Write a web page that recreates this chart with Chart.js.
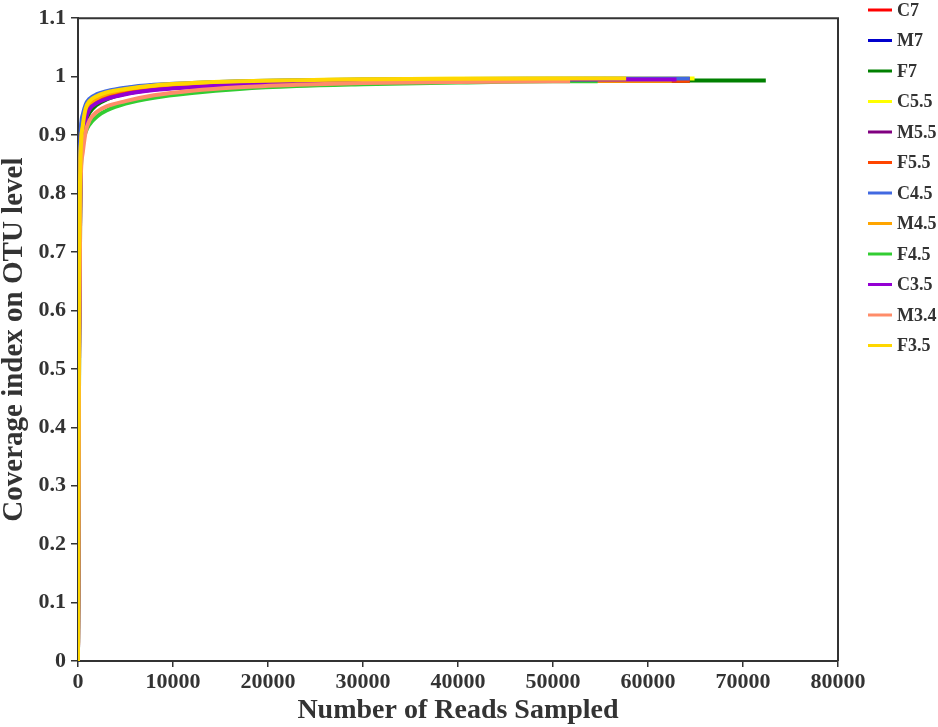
<!DOCTYPE html>
<html>
<head>
<meta charset="utf-8">
<title>Coverage index on OTU level</title>
<script src="https://cdn.jsdelivr.net/npm/chart.js@4.4.1/dist/chart.umd.min.js"></script>
<style>
  html, body { margin: 0; padding: 0; background: #fff; }
  #wrap { width: 938px; height: 727px; }
</style>
</head>
<body>
<div id="wrap"><canvas id="coverage-chart" width="938" height="727"></canvas></div>
<script>
// sample names + colours, same order as the legend
const sampleNames = ["C7", "M7", "F7", "C5.5", "M5.5", "F5.5", "C4.5", "M4.5", "F4.5", "C3.5", "M3.4", "F3.5"];
const sampleColors = ["#ff0000", "#0000cd", "#008000", "#ffff00", "#800080", "#ff4500",
  "#4169e1", "#ffa500", "#32cd32", "#9400d3", "#ff8c69", "#ffd700"];

// reads sampled (x) shared by every curve, last point of each curve is its own depth
const readsSampled = [0, 100, 250, 500, 800, 1200, 2000, 3000, 5000, 8000, 12000, 17000, 23000, 30000, 40000, 50000];
const endReads = [64400, 58000, 72400, 64900, 64400, 64400, 64400, 62500, 54700, 63000, 51800, 57700];

// coverage values
const coverage = [
  [0, 0.55, 0.84, 0.905, 0.932, 0.947, 0.959, 0.967, 0.976, 0.983, 0.987, 0.990, 0.991, 0.992, 0.993, 0.993, 0.993], // C7
  [0, 0.62, 0.88, 0.928, 0.947, 0.958, 0.967, 0.973, 0.980, 0.985, 0.988, 0.991, 0.993, 0.994, 0.995, 0.996, 0.996], // M7
  [0, 0.52, 0.82, 0.895, 0.922, 0.938, 0.952, 0.961, 0.971, 0.979, 0.984, 0.988, 0.990, 0.991, 0.992, 0.993, 0.9935], // F7
  [0, 0.58, 0.86, 0.915, 0.942, 0.955, 0.965, 0.972, 0.979, 0.985, 0.989, 0.992, 0.994, 0.9955, 0.9965, 0.997, 0.997], // C5.5
  [0, 0.50, 0.82, 0.898, 0.928, 0.945, 0.956, 0.963, 0.971, 0.978, 0.983, 0.988, 0.991, 0.993, 0.995, 0.996, 0.996], // M5.5
  [0, 0.55, 0.84, 0.903, 0.930, 0.946, 0.958, 0.967, 0.976, 0.983, 0.987, 0.990, 0.992, 0.993, 0.993, 0.993, 0.993], // F5.5
  [0, 0.65, 0.89, 0.935, 0.952, 0.962, 0.970, 0.975, 0.981, 0.986, 0.989, 0.992, 0.994, 0.995, 0.996, 0.9965, 0.997], // C4.5
  [0, 0.57, 0.86, 0.912, 0.938, 0.952, 0.963, 0.970, 0.978, 0.984, 0.988, 0.990, 0.992, 0.993, 0.993, 0.993, 0.993], // M4.5
  [0, 0.45, 0.80, 0.885, 0.905, 0.918, 0.932, 0.942, 0.954, 0.964, 0.972, 0.979, 0.984, 0.987, 0.990, 0.992, 0.992], // F4.5
  [0, 0.50, 0.82, 0.895, 0.926, 0.944, 0.955, 0.962, 0.970, 0.977, 0.982, 0.987, 0.990, 0.992, 0.994, 0.995, 0.995], // C3.5
  [0, 0.47, 0.80, 0.870, 0.905, 0.925, 0.940, 0.949, 0.958, 0.968, 0.976, 0.982, 0.986, 0.989, 0.991, 0.992, 0.992], // M3.4
  [0, 0.60, 0.85, 0.915, 0.945, 0.958, 0.967, 0.973, 0.979, 0.985, 0.989, 0.992, 0.994, 0.9955, 0.9965, 0.997, 0.997]  // F3.5
];

const xTickValues = [0, 10000, 20000, 30000, 40000, 50000, 60000, 70000, 80000];
const yTickValues = [0, 0.1, 0.2, 0.3, 0.4, 0.5, 0.6, 0.7, 0.8, 0.9, 1, 1.1];

const serif = "'Liberation Serif', 'Times New Roman', serif";
const axisColor = "#333333";

// build {x,y} points for one sample
const toPoints = (i) => {
  const xs = readsSampled.concat([endReads[i]]);
  return coverage[i].map((v, k) => ({ x: xs[k], y: v }));
};

// top + right frame and the legend on the right
const frameAndLegend = {
  id: "frameAndLegend",
  afterDraw(chart) {
    const { ctx, chartArea } = chart;
    ctx.save();
    ctx.strokeStyle = axisColor;
    ctx.lineWidth = 2;
    ctx.beginPath();
    ctx.moveTo(chartArea.left, chartArea.top);
    ctx.lineTo(chartArea.right, chartArea.top);
    ctx.lineTo(chartArea.right, chartArea.bottom);
    ctx.stroke();

    ctx.font = "bold 18px " + serif;
    ctx.textBaseline = "middle";
    ctx.textAlign = "left";
    chart.data.datasets.forEach((ds, i) => {
      const y = 10 + i * 30.5;
      ctx.strokeStyle = ds.borderColor;
      ctx.lineWidth = 3;
      ctx.beginPath();
      ctx.moveTo(868, y);
      ctx.lineTo(892, y);
      ctx.stroke();
      ctx.fillStyle = axisColor;
      ctx.fillText(ds.label, 897, y + 1);
    });
    ctx.restore();
  },
};

const datasets = sampleNames.map((name, i) => ({
  label: name,
  data: toPoints(i),
  borderColor: sampleColors[i],
  backgroundColor: sampleColors[i],
  borderWidth: 4,
  pointRadius: 0,
  cubicInterpolationMode: "monotone",
  order: sampleNames.length - i,
}));

new Chart(document.getElementById("coverage-chart"), {
  type: "line",
  data: { datasets: datasets },
  options: {
    responsive: false,
    animation: false,
    layout: { padding: { top: 17, right: 100, left: 0, bottom: 0 } },
    plugins: {
      legend: { display: false },
      tooltip: { enabled: false },
    },
    scales: {
      x: {
        type: "linear",
        min: 0,
        max: 80000,
        afterBuildTicks: (scale) => {
          scale.ticks = xTickValues.map((v) => ({ value: v }));
        },
        afterFit: (scale) => {
          scale.height = 66;
        },
        ticks: {
          color: axisColor,
          padding: 2,
          maxRotation: 0,
          font: { family: serif, size: 22, weight: "bold" },
          callback: (v) => String(v),
        },
        grid: { drawOnChartArea: false, tickLength: 6, color: axisColor, lineWidth: 1.5 },
        border: { color: axisColor, width: 2 },
        title: {
          display: true,
          text: "Number of Reads Sampled",
          color: axisColor,
          padding: { top: 0, bottom: 2 },
          font: { family: serif, size: 28, weight: "bold", lineHeight: 1 },
        },
      },
      y: {
        type: "linear",
        min: 0,
        max: 1.1,
        afterBuildTicks: (scale) => {
          scale.ticks = yTickValues.map((v) => ({ value: v }));
        },
        afterFit: (scale) => {
          scale.width = 78;
        },
        ticks: {
          color: axisColor,
          padding: 5,
          font: { family: serif, size: 22, weight: "bold" },
          callback: (v) => String(v),
        },
        grid: { drawOnChartArea: false, tickLength: 7, color: axisColor, lineWidth: 1.5 },
        border: { color: axisColor, width: 2 },
        title: {
          display: true,
          text: "Coverage index on OTU level",
          color: axisColor,
          padding: { top: 0, bottom: 0 },
          font: { family: serif, size: 29, weight: "bold", lineHeight: 1 },
        },
      },
    },
  },
  plugins: [frameAndLegend],
});
</script>
</body>
</html>
